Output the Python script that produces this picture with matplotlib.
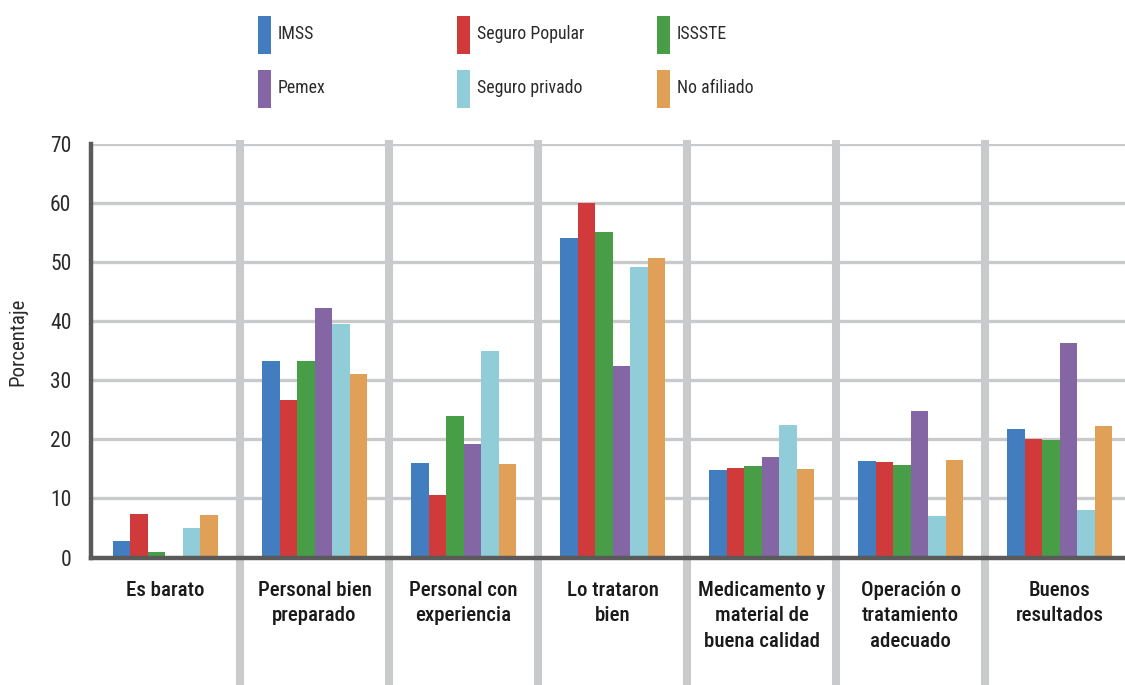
import matplotlib
matplotlib.use("Agg")
import matplotlib.pyplot as plt
from matplotlib.patches import Rectangle
import numpy as np

categories = ["Es barato", "Personal bien\npreparado", "Personal con\nexperiencia",
              "Lo trataron\nbien", "Medicamento y\nmaterial de\nbuena calidad",
              "Operación o\ntratamiento\nadecuado", "Buenos\nresultados"]
series_names = ["IMSS", "Seguro Popular", "ISSSTE", "Pemex", "Seguro privado", "No afiliado"]
imss = [2.8, 33.2, 16.0, 54.1, 14.8, 16.3, 21.7]
seguro_popular = [7.4, 26.6, 10.6, 60.0, 15.1, 16.2, 20.0]
issste = [0.9, 33.2, 23.9, 55.1, 15.5, 15.7, 19.9]
pemex = [0.0, 42.2, 19.2, 32.4, 17.0, 24.8, 36.3]
seguro_privado = [5.0, 39.5, 34.9, 49.2, 22.4, 7.0, 8.0]
no_afiliado = [7.2, 31.0, 15.8, 50.7, 15.0, 16.5, 22.2]
yticks = [0, 10, 20, 30, 40, 50, 60, 70]

series = [imss, seguro_popular, issste, pemex, seguro_privado, no_afiliado]
colors = ["#427DC0", "#D03A3A", "#489E47", "#8466A5", "#90CDD8", "#E0A058"]

plt.rcParams['font.family'] = ['Roboto Condensed', 'IBM Plex Sans Condensed', 'DejaVu Sans']
W, H = 1125, 685
fig = plt.figure(figsize=(W/100, H/100), dpi=100)
ax_left, ax_right = 90.9, 1134.4
ax_top, ax_bot = 143.5, 557.5
ax = fig.add_axes([ax_left/W, 1-ax_bot/H, (ax_right-ax_left)/W, (ax_bot-ax_top)/H])

grid_col = "#C9CACC"
dark = "#5A5A5A"
x = np.arange(len(categories))
bw = 0.1174
for i, (vals, c) in enumerate(zip(series, colors)):
    ax.bar(x + (i-2.5)*bw, vals, width=bw, color=c, zorder=3, linewidth=0)

ax.set_xlim(-0.5, len(categories)-0.5)
ax.set_ylim(0, 70)
ax.set_yticks(yticks)
ax.yaxis.grid(True, color=grid_col, linewidth=2.4, zorder=1)
ax.set_axisbelow(True)
for xs in np.arange(0.5, len(categories)-0.5, 1):
    ax.axvline(xs, ymin=-0.32, ymax=1.0, color=grid_col, linewidth=5.8, clip_on=False, zorder=2)

for s in ["top", "right"]:
    ax.spines[s].set_visible(False)
ax.spines["left"].set_color(dark)
ax.spines["left"].set_linewidth(3.2)
ax.spines["bottom"].set_color(dark)
ax.spines["bottom"].set_linewidth(3.2)
ax.spines["left"].set_zorder(5)
ax.spines["bottom"].set_zorder(5)

ax.tick_params(axis="y", length=0, pad=14, labelsize=15.5, labelcolor="#2A2A2A")
ax.tick_params(axis="x", length=0, pad=17, labelsize=15, labelcolor="#1A1A1A")
ax.set_xticks(x)
ax.set_xticklabels(categories, fontweight="medium", linespacing=1.42)
ax.set_ylabel("Porcentaje", fontsize=15, color="#2A2A2A")
ax.yaxis.set_label_coords(-0.061, 0.522)

# legend drawn manually in a 3x2 grid
leg_x = [258, 457, 657]
leg_y = [16, 70]
for i, (name, c) in enumerate(zip(series_names, colors)):
    r, col = divmod(i, 3)
    px, py = leg_x[col], leg_y[r]
    fig.patches.append(Rectangle((px/W, 1-(py+38)/H), 13/W, 38/H, transform=fig.transFigure,
                                 facecolor=c, edgecolor="none"))
    fig.text((px+20)/W, 1-(py+18)/H, name, fontsize=12.8, color="#2A2A2A", va="center", ha="left")

fig.savefig("out.png", dpi=100)
